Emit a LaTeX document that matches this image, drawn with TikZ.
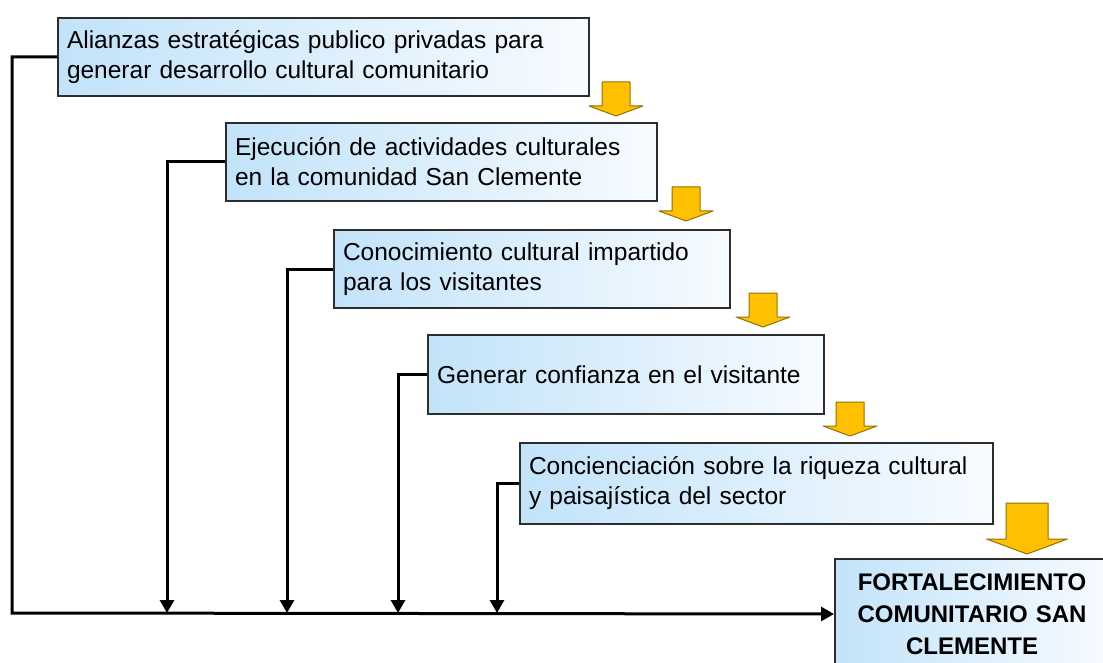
\documentclass[tikz,border=0pt]{standalone}
\usepackage{fontspec}
\setmainfont{Liberation Sans}
\usepackage{tikz}
\usetikzlibrary{
    arrows.meta,
    positioning,
    calc
}
\definecolor{boxblue}{RGB}{194,227,249}
\definecolor{boxwhite}{RGB}{247,251,255}
\definecolor{boxedge}{RGB}{45,45,45}
\definecolor{arrowgold}{RGB}{255,192,0}
\definecolor{arrowedge}{RGB}{150,112,0}

\begin{document}
\begin{tikzpicture}[x=1pt, y=-1pt,
    stepbox/.style={draw=boxedge, line width=2pt, left color=boxblue, right color=boxwhite,
        anchor=north west, align=left, inner xsep=9pt, inner ysep=0pt,
        font=\fontsize{24.5}{30}\selectfont},
    endbox/.style={stepbox, align=center, font=\bfseries\fontsize{24}{32}\selectfont},
    link/.style={draw=black, line width=3pt},
    tip/.style={-{Triangle[width=14pt, length=13pt]}},
    flow/.style={fill=arrowgold, draw=arrowedge, line width=1pt, line join=round}]
                        \useasboundingbox (0, 0) rectangle (1103, 663);
                        \clip (0, 0) rectangle (1103, 663);
                        % cajas
                        \node[stepbox, minimum width=531, minimum height=78, text width=513] (alianzas) at (57, 17)
                            {Alianzas estratégicas publico privadas para\\generar desarrollo cultural comunitario};
                        \node[stepbox, minimum width=431, minimum height=78, text width=413] (ejecucion) at (225, 122)
                            {Ejecución de actividades culturales\\en la comunidad San Clemente};
                        \node[stepbox, minimum width=396, minimum height=78, text width=378] (conocimiento) at (333, 229)
                            {Conocimiento cultural impartido\\para los visitantes};
                        \node[stepbox, minimum width=396, minimum height=79, text width=378] (confianza) at (427, 334)
                            {Generar confianza en el visitante};
                        \node[stepbox, minimum width=473, minimum height=81, text width=455] (concienciacion) at (519, 442)
                            {Concienciación sobre la riqueza cultural\\y paisajística del sector};
                        \node[endbox, minimum width=274, minimum height=110, text width=256] (fortalecimiento) at (834, 558)
                            {FORTALECIMIENTO\\COMUNITARIO SAN\\CLEMENTE};
                        % flechas amarillas
                        \foreach \cx/\ty/\s in {616/82/1, 686/187/1, 763/293/1, 850/402/1, 1027/503/1.5}
                            \draw[flow, shift={(\cx, \ty)}, scale=\s]
                            (-14, 0) -- (14, 0) -- (14, 24) -- (27, 24) -- (0, 34) -- (-27, 24) -- (-14, 24) -- cycle;
                        % conectores
                        \coordinate (drop0) at (12, 613);
                        \coordinate (drop1) at (167, 613);
                        \coordinate (drop2) at (287, 613);
                        \coordinate (drop3) at (398, 613);
                        \coordinate (drop4) at (497, 613);
                        \draw[link, tip] (alianzas.west) -| (drop0) -- (fortalecimiento.west);
                        \draw[link, tip] (ejecucion.west) -| (drop1);
                        \draw[link, tip] (conocimiento.west) -| (drop2);
                        \draw[link, tip] (confianza.west) -| (drop3);
                        \draw[link, tip] (concienciacion.west) -| (drop4);
                    \end{tikzpicture}
\end{document}
